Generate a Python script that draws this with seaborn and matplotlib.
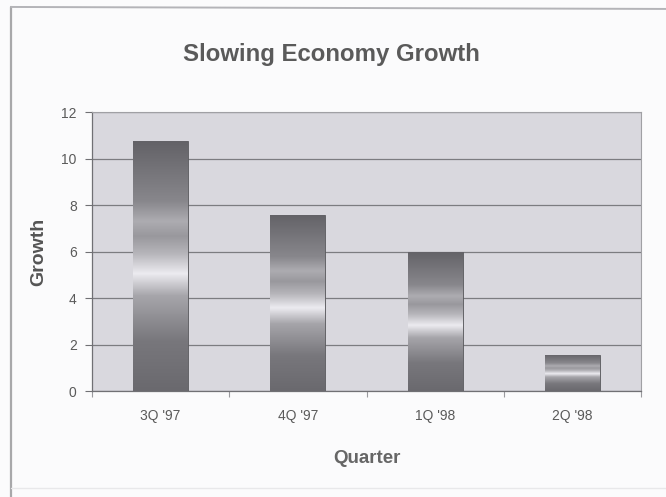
import numpy as np
import pandas as pd
import matplotlib
matplotlib.use("Agg")
import matplotlib.pyplot as plt
import seaborn as sns
from matplotlib.colors import LinearSegmentedColormap
from matplotlib.lines import Line2D

quarters = ["3Q '97", "4Q '97", "1Q '98", "2Q '98"]
growth = [10.75, 7.6, 6.0, 1.55]
y_ticks = [0, 2, 4, 6, 8, 10, 12]

sns.set_theme(style="white")
plt.rcParams['font.family'] = ['Liberation Sans', 'DejaVu Sans']

fig = plt.figure(figsize=(6.66, 4.97), dpi=100)
fig.patch.set_facecolor("#fbfbfc")
# outer chart frame (left and top edges visible in the scan)
fig.add_artist(Line2D([0.0165, 0.0165], [0.0, 0.986], transform=fig.transFigure,
                      color="#a8a8aa", linewidth=1.6))
fig.add_artist(Line2D([0.0165, 1.0], [0.986, 0.982], transform=fig.transFigure,
                      color="#b4b4b8", linewidth=1.4))
fig.add_artist(Line2D([0.0165, 1.0], [0.018, 0.018], transform=fig.transFigure,
                      color="#e8e8ea", linewidth=1.0))

ax = fig.add_axes([0.138, 0.213, 0.825, 0.561])
ax.set_facecolor("#d9d8de")

df = pd.DataFrame({"Quarter": quarters, "Growth": growth})
sns.barplot(data=df, x="Quarter", y="Growth", ax=ax, width=0.4,
            color="#777777", edgecolor="#5a5a5e", linewidth=0.6, zorder=3)

metal = LinearSegmentedColormap.from_list("metal", [
    (0.00, "#6a696e"),
    (0.20, "#78777c"),
    (0.38, "#a6a5aa"),
    (0.47, "#ecebf0"),
    (0.55, "#b6b5ba"),
    (0.62, "#99989d"),
    (0.68, "#adacb1"),
    (0.76, "#88878c"),
    (1.00, "#636267"),
])
grad = np.linspace(0, 1, 256).reshape(-1, 1)
for p in list(ax.patches):
    x0, y0 = p.get_x(), p.get_y()
    w, h = p.get_width(), p.get_height()
    im = ax.imshow(grad, cmap=metal, origin="lower", aspect="auto",
                   extent=[x0, x0 + w, y0, y0 + h], zorder=3.5)
    im.set_clip_path(p)

ax.set_xlim(-0.5, 3.5)
ax.set_ylim(0, 12)
ax.set_yticks(y_ticks)
ax.yaxis.grid(True, color="#7c7c80", linewidth=0.9, zorder=1)
ax.set_axisbelow(True)

for s in ["top", "right"]:
    ax.spines[s].set_color("#a0a0a4")
    ax.spines[s].set_linewidth(0.8)
for s in ["left", "bottom"]:
    ax.spines[s].set_color("#707074")
    ax.spines[s].set_linewidth(0.9)

ax.tick_params(axis="y", which="major", length=5, width=0.8, color="#707074",
               labelsize=10, labelcolor="#5a5a5a", left=True, direction="out", pad=6)
ax.tick_params(axis="x", which="major", length=0, labelsize=10,
               labelcolor="#5a5a5a", pad=13)
ax.set_xticks(np.arange(-0.5, 4.0, 1.0), minor=True)
ax.tick_params(axis="x", which="minor", length=4, width=0.8, color="#9a9a9e",
               bottom=True, direction="out")

ax.set_xlabel("Quarter", fontsize=13.5, fontweight="bold", color="#666666", labelpad=19)
ax.set_ylabel("Growth", fontsize=14, fontweight="bold", color="#555555", labelpad=10)

fig.text(0.4975, 0.89, "Slowing Economy Growth", ha="center", va="center",
         fontsize=17.3, fontweight="bold", color="#5a5a5a")

fig.savefig("out.png", dpi=100, facecolor=fig.get_facecolor())
